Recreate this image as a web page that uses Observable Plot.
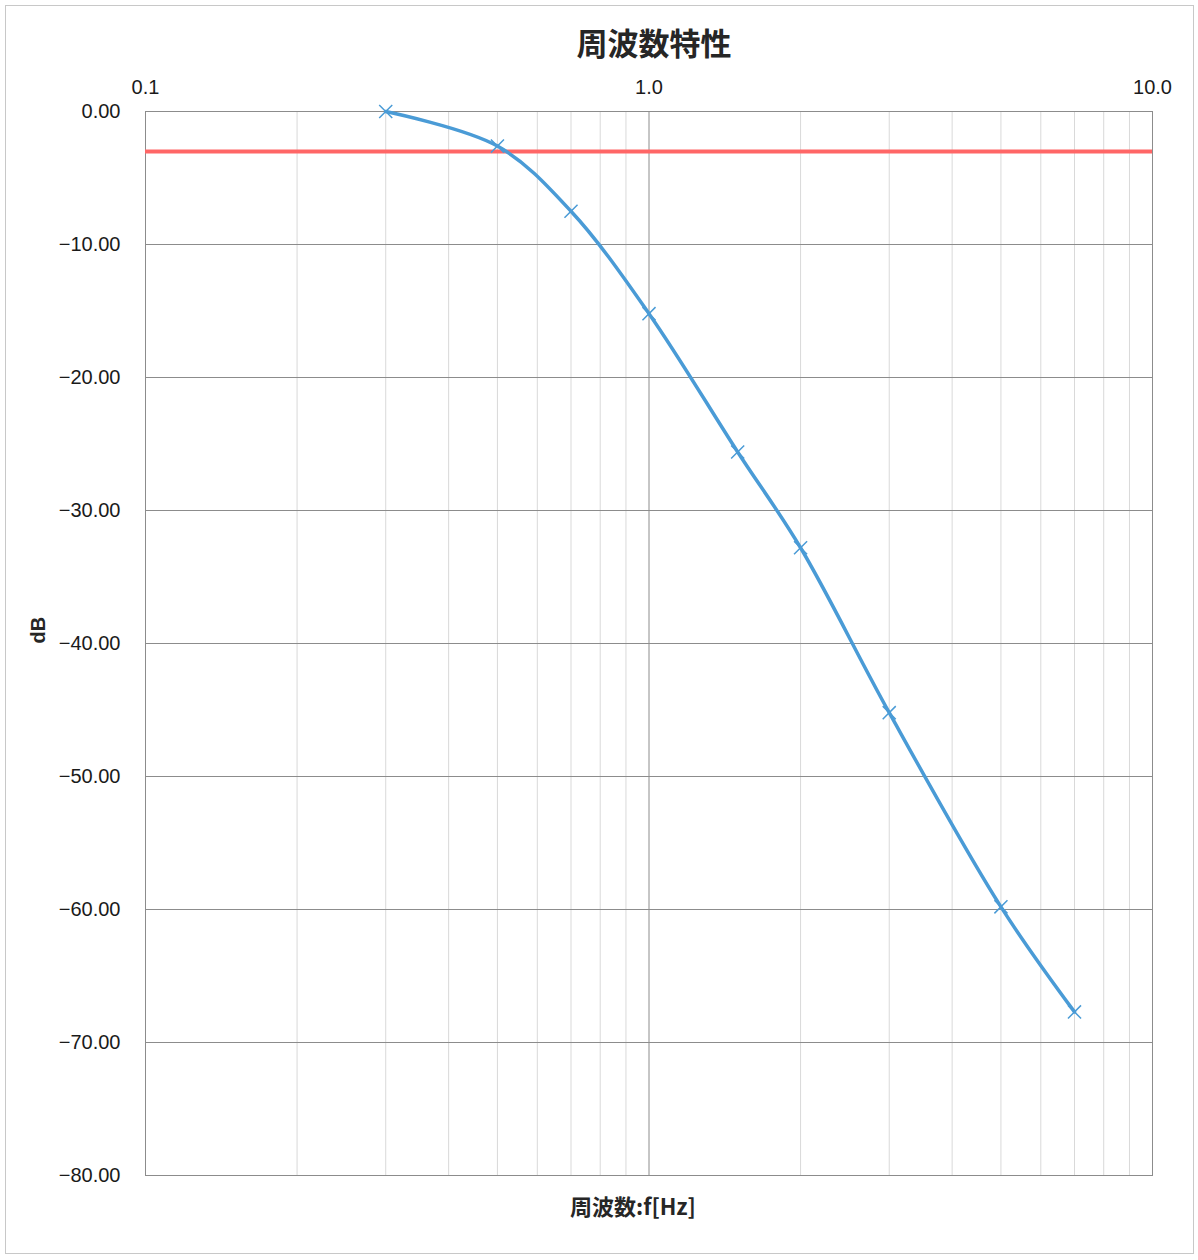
<!DOCTYPE html>
<html>
<head>
<meta charset="utf-8">
<script src="https://cdn.jsdelivr.net/npm/d3@7"></script>
<script src="https://cdn.jsdelivr.net/npm/@observablehq/plot@0.6"></script>
<style>
  html, body { margin: 0; padding: 0; background: #fff; }
  #wrap { position: relative; width: 1198px; height: 1260px; }
  #border { position: absolute; left: 5px; top: 5px; width: 1189px; height: 1249px; border: 1px solid #c8c8c8; box-sizing: border-box; pointer-events: none; }
  #chart { position: absolute; left: 0; top: 0; }
</style>
</head>
<body>
<div id="wrap"><div id="border"></div><div id="chart"></div></div>
<script>
const titleText = "周波数特性";
const xLabel = "周波数:f[Hz]";
const yLabel = "dB";
const freq = [0.3, 0.5, 0.7, 1.0, 1.5, 2.0, 3.0, 5.0, 7.0];
const gainDb = [0, -2.6, -7.5, -15.2, -25.6, -32.8, -45.2, -59.8, -67.7];
const cutoffDb = [-3];
const xMajorTicks = [0.1, 1, 10];
const xMinorTicks = [0.2, 0.3, 0.4, 0.5, 0.6, 0.7, 0.8, 0.9, 2, 3, 4, 5, 6, 7, 8, 9];
const yTicks = [0, -10, -20, -30, -40, -50, -60, -70, -80];

const data = freq.map((f, i) => ({f, db: gainDb[i]}));
const fmtY = d => d === 0 ? "0.00" : "\u2212" + Math.abs(d).toFixed(2);
const font = "'Liberation Sans', Arial, sans-serif";
const cjk = "'Noto Sans CJK JP', 'Noto Sans', sans-serif";

const chart = Plot.plot({
  width: 1198,
  height: 1260,
  marginLeft: 145,
  marginRight: 46,
  marginTop: 111,
  marginBottom: 85,
  style: {fontFamily: font, fontSize: "20px", color: "#1a1a1a", background: "transparent"},
  x: {type: "log", domain: [0.1, 10]},
  y: {domain: [-80, 0]},
  marks: [
    Plot.ruleX(xMinorTicks, {stroke: "#d9d9d9", strokeWidth: 1}),
    Plot.ruleX([1], {stroke: "#8c8c8c", strokeWidth: 1}),
    Plot.ruleY(yTicks.filter(d => d !== 0 && d !== -80), {stroke: "#8c8c8c", strokeWidth: 1}),
    Plot.frame({stroke: "#8c8c8c", strokeWidth: 1}),
    Plot.ruleY(cutoffDb, {stroke: "#ff6666", strokeWidth: 4}),
    Plot.line(data, {x: "f", y: "db", stroke: "#4a9bd6", strokeWidth: 3.5, curve: "catmull-rom"}),
    Plot.dot(data, {x: "f", y: "db", symbol: "times", r: 6, stroke: "#4a9bd6", strokeWidth: 1.5}),
    Plot.axisX(xMajorTicks, {anchor: "top", tickSize: 0, tickPadding: 18, tickFormat: d => d.toFixed(1), fontSize: 20, label: null}),
    Plot.axisY(yTicks, {anchor: "left", tickSize: 0, tickPadding: 25, tickFormat: fmtY, fontSize: 20, label: null}),
    Plot.text([titleText], {frameAnchor: "top", dy: -79, dx: 5, fontSize: 31, fontWeight: "bold", fontFamily: cjk, fill: "#262626"}),
    Plot.text([xLabel], {frameAnchor: "bottom", dy: 39, dx: -16, fontSize: 22, fontWeight: "bold", fontFamily: cjk, fill: "#262626"}),
    Plot.text([yLabel], {frameAnchor: "left", dx: -107, rotate: -90, fontSize: 20, fontWeight: "bold", fontFamily: font, fill: "#262626"})
  ]
});
document.getElementById("chart").appendChild(chart);
</script>
</body>
</html>
